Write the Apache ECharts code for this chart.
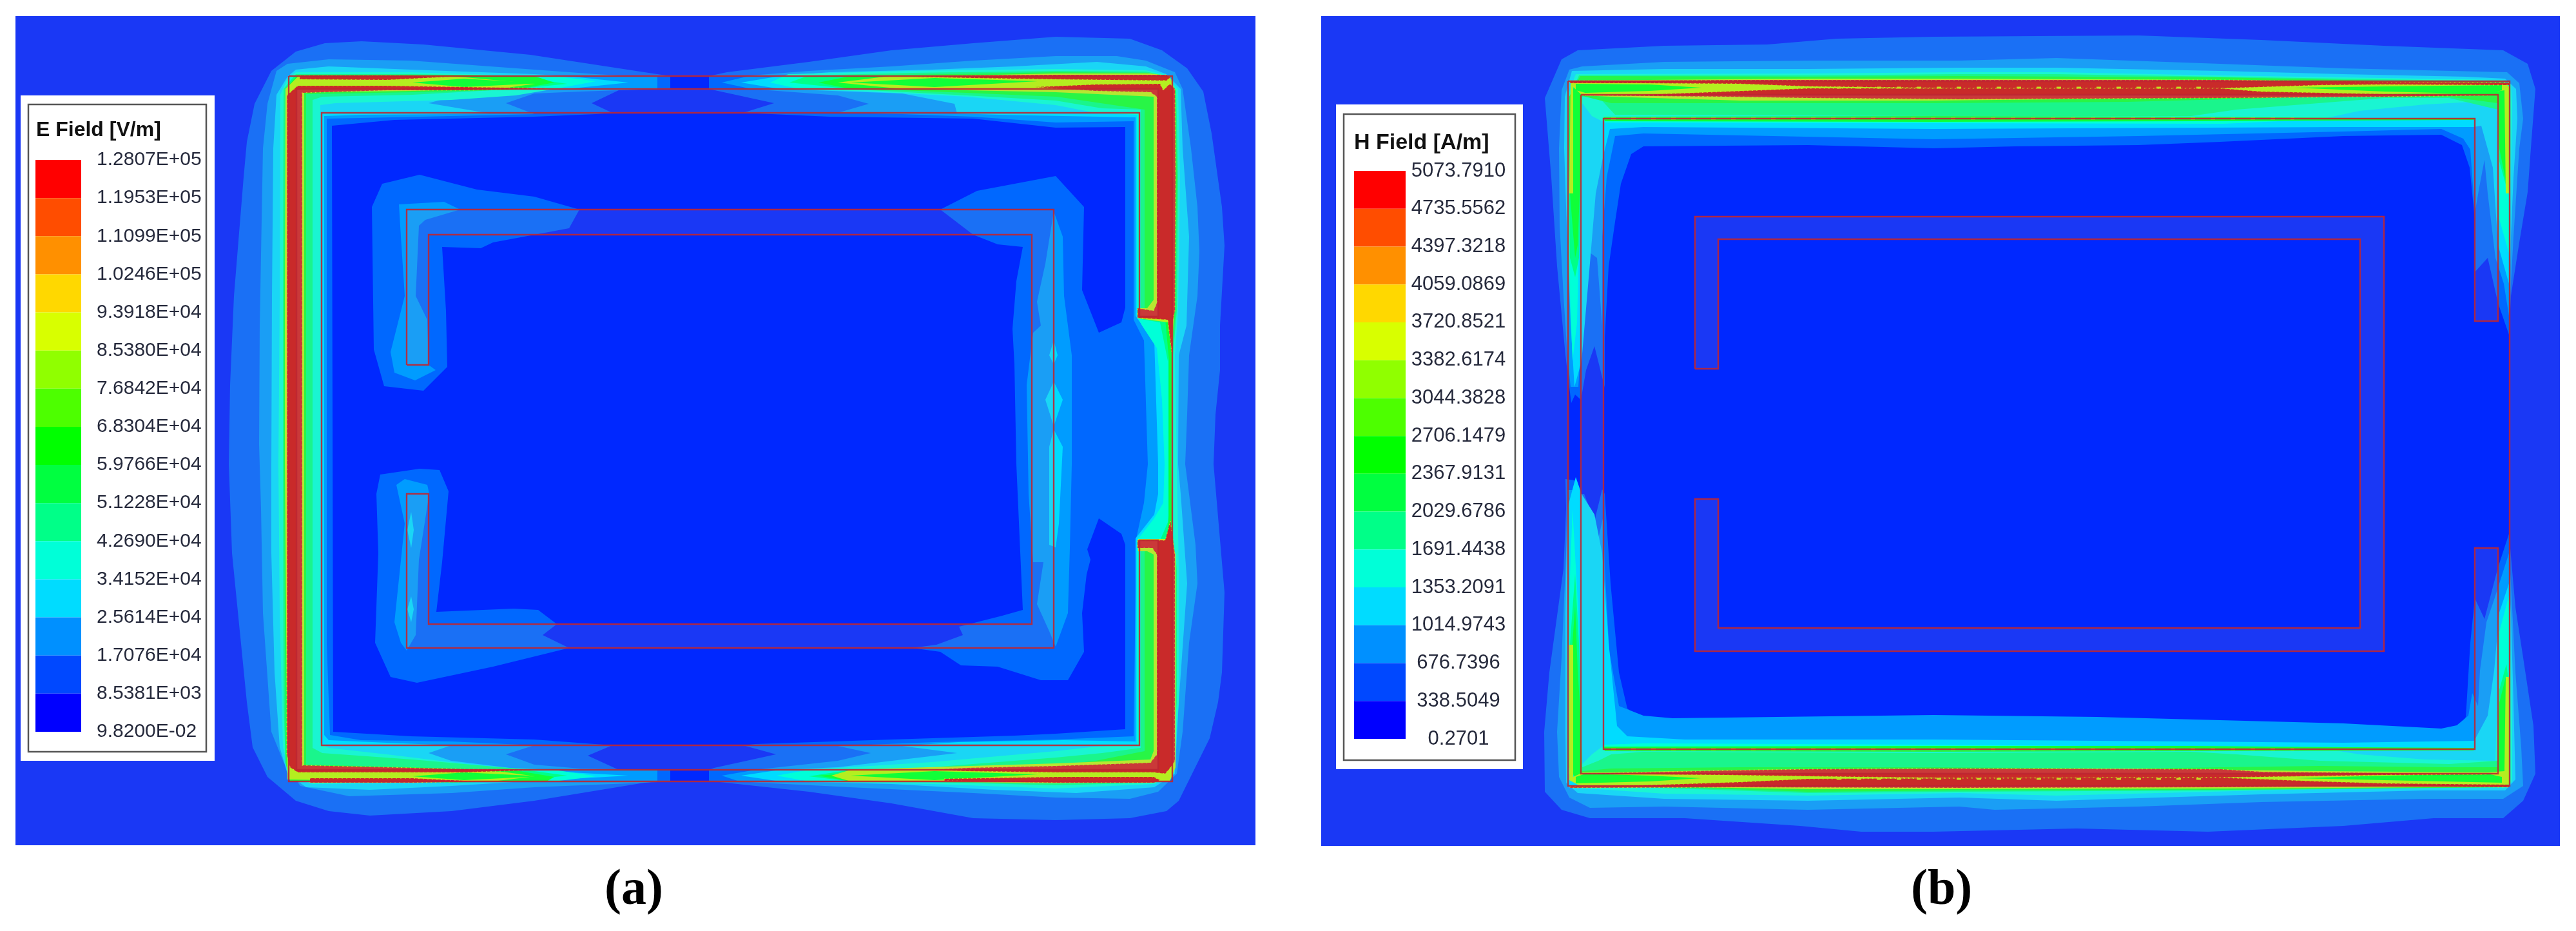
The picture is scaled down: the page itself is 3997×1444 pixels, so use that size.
<!DOCTYPE html>
<html><head><meta charset="utf-8">
<style>html,body{margin:0;padding:0;background:#fff}#c{width:3997px;height:1444px}</style>
<script src="https://cdn.jsdelivr.net/npm/echarts@6/dist/echarts.min.js"></script>
</head><body><div id="c"></div>
<script>
// ---------- legends ----------
const eTicks=['1.2807E+05','1.1953E+05','1.1099E+05','1.0246E+05','9.3918E+04','8.5380E+04','7.6842E+04','6.8304E+04','5.9766E+04','5.1228E+04','4.2690E+04','3.4152E+04','2.5614E+04','1.7076E+04','8.5381E+03','9.8200E-02'];
const hTicks=['5073.7910','4735.5562','4397.3218','4059.0869','3720.8521','3382.6174','3044.3828','2706.1479','2367.9131','2029.6786','1691.4438','1353.2091','1014.9743','676.7396','338.5049','0.2701'];
const swatchColors=['#ff0000','#ff4d00','#ff9000','#ffd800','#d8ff00','#90ff00','#4dff00','#00ff00','#00ff40','#00ff88','#00ffd8','#00dcff','#0090ff','#0048ff','#0000ff'];
// contour level fills, index = level
const levelColors=[null,'#0068ff','#009cff','#00dcff','#00ffd8','#00ff88','#10ff38','#b4ee20','#c92a2a'];
// ---------- panel (a): E field contours, positions along the panel's axes ----------
const aL1W=[1040,118,1000,112,823,85,657,69,561,64,504,67,459,80,421,110,395,161,383,220,378,275,363,459,357,597,355,720,360,858,383,1089,392,1159,415,1205,459,1242,510,1258,574,1265,701,1258,829,1242,1000,1214,1040,1212,1040,1194,960,1194,912,1172,950,1156,829,1147,638,1142,517,1135,515,195,612,186,829,181,925,177,950,175,918,160,960,140,1040,138];
const aL1E=[1100,118,1128,112,1255,96,1383,78,1510,67,1638,57,1753,60,1803,78,1842,106,1867,142,1880,207,1896,321,1900,381,1893,505,1893,574,1886,643,1883,720,1900,919,1896,1043,1890,1089,1877,1145,1829,1242,1810,1258,1753,1269,1638,1272,1510,1269,1383,1246,1255,1228,1108,1212,1100,1212,1100,1194,1108,1191,1204,1170,1153,1156,1172,1154,1383,1147,1574,1141,1638,1138,1746,1131,1746,845,1740,828,1705,804,1687,852,1692,868,1686,891,1679,951,1682,1011,1657,1055,1615,1055,1548,1034,1491,1032,1459,1011,1415,1005,1453,1000,1494,985,1488,972,1555,955,1587,946,1577,720,1574,565,1571,510,1577,436,1587,383,1548,379,1510,364,1459,325,1516,296,1638,273,1682,321,1679,450,1705,516,1740,500,1746,477,1746,197,1638,198,1510,184,1287,181,1153,175,1201,160,1100,138];
const aRingL1NW=[593,285,651,271,740,294,829,305,899,325,883,354,765,376,746,385,686,383,692,482,694,569,657,606,596,599,580,542,577,321];
const aRingL1SW=[590,736,651,727,682,729,696,762,686,872,677,949,797,944,835,946,864,968,842,985,883,1005,765,1034,647,1059,606,1050,582,997,587,858,584,766];
const aL2W=[1020,118,976,118,925,115,829,108,638,94,510,92,446,99,429,110,415,161,408,230,403,505,402,689,405,789,408,951,421,1135,440,1182,466,1219,542,1235,701,1230,829,1221,1000,1214,1020,1212,1020,1194,900,1192,829,1186,785,1170,829,1156,700,1150,560,1148,512,1140,507,1000,507,184,560,183,700,180,829,177,785,160,829,145,900,142,1020,138];
const aL2E=[1120,128,1166,117,1255,110,1383,103,1510,94,1638,87,1733,87,1778,94,1823,112,1835,138,1848,230,1858,321,1861,390,1858,459,1845,551,1842,643,1839,720,1842,743,1855,845,1858,905,1845,997,1835,1135,1826,1200,1797,1228,1753,1239,1638,1237,1510,1230,1319,1221,1179,1214,1147,1212,1120,1203,1172,1194,1300,1180,1351,1168,1300,1157,1450,1151,1638,1147,1759,1142,1763,835,1775,780,1781,720,1775,528,1759,496,1759,188,1638,190,1510,181,1400,177,1300,175,1348,161,1300,148,1166,138];
const aRingL2NW=[619,317,689,313,714,325,660,341,650,350,645,459,663,496,665,566,676,574,644,590,612,578,606,546,628,459,622,367];
const aRingL2SW=[615,752,628,743,663,752,666,766,650,868,645,985,631,1009,622,997,612,965,628,812];
const aRingL2E=[1635,328,1649,367,1651,459,1663,551,1663,720,1660,850,1657,951,1638,1003,1628,979,1609,937,1619,872,1603,872,1596,766,1593,597,1603,516,1615,505,1609,468,1622,409];
const aL3W=[975,128,880,118,829,115,638,108,510,103,459,108,446,119,429,147,424,230,422,459,421,720,421,858,426,1043,434,1159,446,1200,475,1221,574,1225,701,1219,797,1213,816,1212,975,1203,816,1194,700,1180,665,1168,700,1156,600,1152,510,1148,503,1140,503,180,560,178,700,177,760,176,665,160,720,145,880,138];
const aL3E=[1150,128,1210,118,1287,112,1446,108,1574,103,1702,96,1778,103,1810,115,1832,138,1835,230,1845,367,1841,505,1829,551,1828,720,1832,766,1842,905,1829,1089,1823,1200,1791,1221,1670,1230,1542,1225,1383,1216,1210,1212,1150,1203,1210,1194,1300,1190,1485,1168,1400,1157,1487,1151,1650,1148,1762,1150,1762,835,1791,798,1797,766,1797,720,1791,528,1769,500,1762,490,1762,182,1650,180,1550,178,1485,176,1481,161,1400,145,1210,138];
const aRingL3A=[1635,592,1649,620,1635,661,1622,620];
const aRingL3B=[1635,528,1641,551,1635,565,1628,551];
const aRingL3C=[1635,666,1649,693,1643,812,1638,849,1628,845,1628,775,1628,693];
const aRingL3D=[638,794,642,822,638,850,632,822];
const aRingL3E=[638,925,642,945,638,965,632,945];
const aL4W=[925,126,860,118,765,116,638,112,459,112,446,122,435,147,434,459,432,720,434,951,439,1159,450,1205,485,1216,638,1214,733,1212,860,1212,925,1204,860,1194,765,1190,600,1170,510,1160,497,1153,497,163,520,160,700,155,800,148,860,138];
const aL4E=[1195,128,1223,115,1415,110,1638,107,1778,109,1805,115,1828,138,1831,275,1828,482,1823,551,1826,720,1829,882,1829,1089,1821,1200,1791,1216,1638,1223,1446,1216,1255,1212,1205,1203,1255,1194,1446,1182,1638,1165,1700,1158,1764,1155,1764,838,1790,805,1805,780,1807,720,1803,620,1795,540,1772,505,1764,490,1764,178,1700,175,1638,163,1500,150,1350,142,1240,138];
const aL5W=[880,130,797,118,765,117,638,115,459,115,440,138,439,459,439,720,440,1089,443,1182,450,1209,701,1214,797,1212,880,1203,800,1192,640,1178,500,1168,485,1160,485,155,500,150,640,147,800,138];
const aL5E=[1225,128,1255,117,1415,113,1638,110,1778,111,1810,118,1825,140,1828,275,1826,482,1820,551,1818,720,1820,830,1826,882,1826,1089,1818,1200,1791,1214,1638,1218,1446,1213,1320,1212,1255,1204,1320,1194,1446,1190,1638,1175,1710,1168,1770,1160,1770,845,1800,838,1812,810,1812,560,1800,500,1770,495,1770,170,1710,168,1638,156,1500,148,1350,140,1320,138];
const aL6W=[860,128,829,118,701,116,462,116,443,138,441,459,441,720,443,1182,450,1211,733,1213,848,1212,860,1205,800,1195,640,1190,475,1186,475,146,640,143,800,139];
const aL6E=[1270,128,1320,118,1415,116,1638,112,1780,113,1812,120,1824,140,1826,275,1824,482,1819,540,1817,720,1819,830,1824,882,1824,1089,1815,1200,1790,1211,1638,1214,1446,1212,1320,1212,1270,1203,1400,1194,1638,1187,1700,1180,1776,1165,1776,842,1810,840,1814,800,1814,560,1808,495,1776,490,1776,170,1640,150,1500,144,1400,140,1320,138];
const aL7W=[830,130,701,118,638,117,464,117,443,138,442,459,442,720,446,1209,701,1213,765,1212,830,1204,780,1197,640,1192,472,1188,472,143,640,141,780,137];
const aL7NE=[1300,128,1380,118,1500,117,1638,114,1785,114,1815,118,1823,140,1824,275,1822,482,1818,546,1812,500,1768,494,1766,478,1780,478,1790,465,1790,150,1638,143,1500,140,1400,138];
const aL7SE=[1816,808,1818,838,1824,860,1824,1190,1815,1212,1638,1215,1500,1213,1320,1212,1290,1203,1320,1194,1440,1190,1640,1184,1785,1178,1790,1165,1790,860,1780,855,1766,855,1766,836,1810,836];
// cooler core between the two hot strips, where they fade toward the gap
const aGreenNW=[640,128,720,122,840,129,720,135];
const aGreenSW=[640,1204,720,1198,840,1204,720,1210];
const aGreenNE=[1320,128,1450,121,1610,126,1450,135];
const aGreenSE=[1320,1203,1450,1196,1610,1201,1450,1210];
const aRedW=[445,148,462,133,600,133,720,135,850,137,720,140,600,140,469,144,469,1187,600,1190,720,1193,829,1194,720,1198,600,1198,462,1198,450,1190,445,1170];
const aRedNW=[465,117,600,117,698,119,600,124,465,123];
const aRedSW=[481,1207,640,1207,740,1212,640,1214,481,1214];
const aRedNE=[1606,135,1700,131,1800,130,1805,140,1815,130,1823,138,1824,275,1823,482,1819,500,1818,546,1812,496,1765,493,1765,478,1790,482,1795,470,1795,150,1785,143,1700,141];
const aRedNE2=[1415,119,1510,117,1638,116,1810,116,1816,120,1810,125,1638,123,1510,121];
const aRedSE=[1816,808,1823,860,1823,1180,1815,1192,1808,1200,1790,1198,1638,1198,1500,1196,1446,1194,1500,1191,1638,1188,1785,1183,1795,1170,1795,860,1788,850,1765,850,1765,838,1808,838];
const aRedSE2=[1465,1208,1638,1205,1790,1205,1800,1210,1790,1214,1638,1214,1465,1211];
// panel (a) translucent bodies
const aBodyOuter=[24,25,1948,25,1948,1311,24,1311,24,25,448,118,448,1212,1819,1212,1819,118,448,118];
const aBodySlot=[460,138,1797,138,1797,491,1768,491,1768,175,499,175,499,1156,1768,1156,1768,838,1797,838,1797,1194,460,1194];
const aBodyRing=[631,566,631,325,1635,325,1635,1005,631,1005,631,766,665,766,665,968,1601,968,1601,364,665,364,665,566];
const aEdges=[[448,118,1819,118,1819,1212,448,1212,448,118],[460,138,1797,138,1797,491,1768,491,1768,175,499,175,499,1156,1768,1156,1768,838,1797,838,1797,1194,460,1194,460,138],aBodyRing.concat([631,566])];
// ---------- panel (b): H field contours ----------
const bL1N=[2438,625,2429,551,2416,413,2407,275,2397,152,2423,92,2448,78,2582,71,2742,69,2850,60,3000,57,3318,55,3509,62,3699,71,3884,78,3922,99,3934,138,3928,216,3922,298,3909,376,3896,459,3893,519,3876,470,3860,400,3840,422,3840,340,3832,260,3820,225,3788,209,3636,211,3445,220,3318,225,3127,227,3000,230,2805,225,2550,227,2531,239,2515,285,2506,344,2496,413,2490,523,2490,601,2474,537,2461,574,2453,620,2444,612];
const bL1S=[2429,743,2430,789,2426,882,2404,1043,2396,1135,2397,1228,2423,1256,2467,1269,2614,1269,2793,1281,2888,1290,3000,1290,3222,1285,3426,1290,3636,1281,3776,1269,3884,1269,3915,1242,3934,1200,3931,1126,3915,1020,3903,942,3893,828,3876,880,3855,960,3840,928,3833,997,3826,1112,3814,1131,3788,1138,3636,1129,3445,1126,3254,1119,3095,1115,2741,1119,2595,1122,2550,1117,2525,1099,2512,1043,2499,905,2490,766,2486,759,2474,808,2458,766,2451,766,2443,745];
const bL2N=[2437,600,2432,551,2426,459,2420,350,2419,230,2423,140,2435,108,2455,103,2582,96,2805,94,3040,94,3191,90,3445,99,3636,106,3890,112,3909,129,3915,184,3909,230,3900,367,3895,459,3893,490,3885,440,3872,400,3860,300,3855,248,3847,290,3840,330,3833,232,3822,215,3788,200,3636,204,3318,211,3000,216,2550,207,2506,211,2493,275,2486,367,2486,505,2478,400,2467,392,2454,520,2449,600];
const bL2S=[2432,760,2430,858,2423,1020,2416,1135,2419,1205,2435,1237,2467,1253,2582,1251,2805,1256,3040,1251,3095,1256,3318,1251,3509,1244,3763,1239,3884,1239,3915,1219,3912,1159,3903,1043,3896,905,3893,858,3870,930,3858,965,3848,1040,3845,1095,3836,1075,3830,1110,3812,1125,3788,1130,3636,1122,3254,1112,3000,1109,2595,1114,2550,1110,2512,1095,2497,1010,2490,880,2488,800,2470,880,2452,830,2445,760];
const bL3N=[2443,600,2437,500,2431,350,2427,230,2428,150,2439,110,2582,107,2805,107,3040,105,3191,105,3445,110,3636,115,3826,119,3887,122,3904,138,3906,184,3900,275,3896,367,3895,413,3893,440,3876,380,3868,260,3850,195,3838,197,3636,197,3000,200,2550,197,2498,200,2488,240,2476,300,2466,420,2454,560];
const bL3S=[2445,740,2432,789,2429,951,2429,1135,2430,1214,2448,1230,2582,1239,2805,1242,3040,1237,3191,1242,3509,1232,3763,1226,3887,1226,3903,1209,3900,1089,3896,951,3893,905,3878,950,3870,1040,3860,1110,3839,1149,3636,1152,3000,1147,2614,1147,2525,1142,2509,1126,2496,997,2486,858,2474,798,2454,766];
const bL4N=[2440,560,2434,400,2431,230,2432,150,2445,115,2805,114,3040,112,3191,112,3445,117,3636,120,3884,124,3896,131,3898,161,3895,321,3895,400,3878,340,3876,240,3874,156,3763,162,3661,172,3600,185,3450,192,3000,191,2550,190,2490,190,2470,180,2455,160,2453,200,2452,300,2447,500];
const bL4S=[2440,790,2434,950,2432,1100,2434,1200,2450,1222,2582,1231,2805,1234,3040,1230,3191,1234,3509,1226,3763,1220,3887,1222,3898,1212,3898,1120,3895,1000,3894,920,3878,980,3875,1080,3872,1180,3763,1178,3661,1170,3600,1160,3000,1155,2550,1153,2490,1155,2470,1170,2455,1185,2453,1100,2449,950];
const bL5N=[2444,430,2436,400,2434,230,2435,150,2450,117,2805,117,3040,115,3191,115,3445,119,3636,122,3884,126,3892,135,3893,250,3889,290,3878,250,3876,170,3800,152,3700,152,3470,170,3400,180,3000,180,2550,178,2506,178,2480,150,2455,150,2453,250,2450,400];
const bL5S=[2444,890,2436,1000,2434,1190,2450,1218,2805,1230,3040,1228,3445,1226,3884,1221,3892,1215,3893,1060,3889,1030,3878,1070,3876,1180,3800,1185,3600,1180,3470,1170,3400,1166,3000,1168,2550,1166,2500,1170,2480,1180,2455,1190,2453,1110,2450,1000];
const bL6N=[2444,400,2436,300,2435,150,2452,118,2805,119,3040,118,3445,120,3636,124,3884,128,3892,136,3892,250,3888,280,3878,230,3876,160,3800,150,3600,150,3300,158,3000,160,2700,160,2500,160,2460,150,2455,148,2453,250,2448,380];
const bL6S=[2444,940,2436,1050,2435,1190,2450,1216,2805,1228,3040,1226,3445,1225,3636,1223,3884,1221,3892,1215,3892,1060,3888,1050,3878,1090,3876,1190,3800,1190,3600,1188,3300,1192,3000,1190,2700,1190,2500,1192,2455,1196,2453,1120,2448,1040];
const bL6StripN=[2488,181,3000,180,3400,181,3661,183,3840,183,3838,186,3400,188,3000,189,2490,188];
const bL6StripS=[2488,1158,3000,1157,3400,1157,3661,1159,3840,1160,3838,1164,3400,1165,3000,1166,2490,1165];
const bL7N=[2435,300,2437,125,2805,122,3040,122,3445,124,3636,126,3884,128,3893,134,3893,300,3888,300,3886,140,3860,144,3600,147,3300,153,3000,156,2700,156,2500,150,2455,148,2441,135,2441,300];
const bL7S=[2435,1000,2435,1210,2450,1218,2805,1224,3040,1224,3445,1223,3636,1222,3884,1220,3893,1216,3893,1050,3888,1050,3886,1196,3860,1198,3600,1196,3300,1192,3000,1192,2700,1194,2500,1198,2456,1198,2441,1205,2441,1000];
const bGreenNW=[2445,130,2560,131,2640,136,2560,141,2460,144,2445,140];
const bGreenNE=[3882,132,3700,134,3560,136,3700,142,3860,146,3882,140];
const bGreenSW=[2445,1215,2560,1212,2640,1207,2560,1203,2460,1200,2445,1205];
const bGreenSE=[3882,1214,3700,1210,3560,1207,3700,1203,3860,1200,3882,1205];
const bRedN1=[2436,125,2550,125,2700,124,3040,124,3445,124,3600,126,3700,127,3893,128,3893,132,3700,131,3600,132,3445,137,3040,137,2805,134,2700,130,2550,129,2436,129];
const bRedN2=[2550,147,2678,142,2805,137,3040,137,3445,137,3509,142,3699,146,3860,148,3699,150,3445,152,3040,154,2805,152,2678,150,2455,148];
const bRedS1=[2455,1200,2678,1195,2805,1193,3040,1192,3445,1193,3509,1197,3699,1199,3860,1201,3699,1202,3445,1206,3040,1207,2805,1204,2678,1202];
const bRedS2=[2436,1220,2550,1218,2700,1213,2805,1208,3040,1207,3445,1206,3600,1212,3700,1215,3893,1217,3893,1221,3700,1219,3445,1221,3040,1222,2700,1221,2436,1222];
const bBodyOuter=[2050,25,3972,25,3972,1312,2050,1312,2050,25,2433,126,2433,1219,3894,1219,3894,126,2433,126];
const bBodySlot=[2453,147,3876,147,3876,498,3840,498,3840,184,2488,184,2488,1162,3840,1162,3840,850,3876,850,3876,1200,2453,1200];
const bBodyRing=[2630,572,2630,336,3699,336,3699,1010,2630,1010,2630,774,2666,774,2666,974,3662,974,3662,371,2666,371,2666,572];
const bEdges=[[2433,126,3894,126,3894,1219,2433,1219,2433,126],bBodySlot.concat([2453,147]),bBodyRing.concat([2630,572])];
// yellow ridges inside the hottest strips and on the slot edge
const bRidges=[[2850,136,3420,136],[2850,1208,3420,1208],[2500,184,3560,184],[2500,1162,3560,1162]];
const bodyTint='rgba(217,173,172,0.12)';
const edgeColor='rgba(190,38,50,0.9)';
// draw order: rising level, then bodies
const aLayers=[[aL1W,1],[aL1E,1],[aRingL1NW,1],[aRingL1SW,1],[aL2W,2],[aL2E,2],[aRingL2NW,2],[aRingL2SW,2],[aRingL2E,2],[aL3W,3],[aL3E,3],[aRingL3A,3],[aRingL3B,3],[aRingL3C,3],[aRingL3D,3],[aRingL3E,3],[aL4W,4],[aL4E,4],[aL5W,5],[aL5E,5],[aL6W,6],[aL6E,6],[aL7W,7],[aL7NE,7],[aL7SE,7],[aGreenNW,6],[aGreenSW,6],[aGreenNE,6],[aGreenSE,6],[aRedW,8],[aRedNW,8],[aRedSW,8],[aRedNE,8],[aRedNE2,8],[aRedSE,8],[aRedSE2,8],[aBodyOuter,0],[aBodySlot,0],[aBodyRing,0]];
const bLayers=[[bL1N,1],[bL1S,1],[bL2N,2],[bL2S,2],[bL3N,3],[bL3S,3],[bL4N,4],[bL4S,4],[bL5N,5],[bL5S,5],[bL6N,6],[bL6S,6],[bL6StripN,6],[bL6StripS,6],[bL7N,7],[bL7S,7],[bGreenNW,6],[bGreenNE,6],[bGreenSW,6],[bGreenSE,6],[bRedN1,8],[bRedN2,8],[bRedS1,8],[bRedS2,8],[bBodyOuter,0],[bBodySlot,0],[bBodyRing,0]];

const toPts=(flat,api)=>{const r=[];for(let i=0;i<flat.length;i+=2)r.push(api.coord([flat[i],flat[i+1]]));return r;};
function fieldSeries(layers,g){return {type:'custom',coordinateSystem:'cartesian2d',xAxisIndex:g,yAxisIndex:g,z:2,clip:true,silent:true,animation:false,
  data:layers.map((_,i)=>[i,i]),
  renderItem(p,api){const l=layers[p.dataIndex];const lev=l[1];
    const style=lev===0?{fill:bodyTint}:{fill:levelColors[lev]};
    if(lev===8){style.stroke='#c6e020';style.lineWidth=1.2;style.lineDash=[2,5];}
    return {type:'polygon',shape:{points:toPts(l[0],api)},style};}};}
function edgeSeries(edges,g,color,width,dash,z){return {type:'custom',coordinateSystem:'cartesian2d',xAxisIndex:g,yAxisIndex:g,z:z,clip:true,silent:true,animation:false,
  data:edges.map((_,i)=>[i,i]),
  renderItem(p,api){return {type:'polyline',shape:{points:toPts(edges[p.dataIndex],api)},style:{fill:null,stroke:color,lineWidth:width,lineDash:dash}};}};}
function swatchSeries(g){return {type:'custom',coordinateSystem:'cartesian2d',xAxisIndex:g,yAxisIndex:g,z:20,silent:true,animation:false,
  data:swatchColors.map((_,i)=>[i,i]),
  renderItem(p,api){const i=p.dataIndex;return {type:'polygon',shape:{points:[api.coord([0,i]),api.coord([1,i]),api.coord([1,i+1]),api.coord([0,i+1])]},style:{fill:swatchColors[i]}};}};}
const hidden={show:false};
const lblFont='"Liberation Sans",Arial,sans-serif';
const chart=echarts.init(document.getElementById('c'),null,{renderer:'canvas'});
chart.setOption({
  backgroundColor:'#fff',animation:false,
  grid:[
    {left:24,top:25,width:1924,height:1286,show:true,backgroundColor:'#0028ff',borderWidth:0,containLabel:false},
    {left:2050,top:25,width:1922,height:1287,show:true,backgroundColor:'#0028ff',borderWidth:0},
    {left:55,top:248,width:71,height:887,z:20},
    {left:2101,top:265,width:80,height:881,z:20}
  ],
  xAxis:[
    {type:'value',gridIndex:0,min:24,max:1948,...hidden},
    {type:'value',gridIndex:1,min:2050,max:3972,...hidden},
    {type:'value',gridIndex:2,min:0,max:1,...hidden},
    {type:'value',gridIndex:3,min:0,max:1,...hidden}
  ],
  yAxis:[
    {type:'value',gridIndex:0,min:25,max:1311,inverse:true,...hidden},
    {type:'value',gridIndex:1,min:25,max:1312,inverse:true,...hidden},
    {type:'value',gridIndex:2,min:0,max:15,interval:1,inverse:true,position:'right',z:30,axisLine:hidden,axisTick:hidden,splitLine:hidden,
      axisLabel:{show:true,margin:24,align:'left',fontFamily:lblFont,fontSize:30,color:'#262a3c',showMinLabel:true,showMaxLabel:true,formatter:v=>eTicks[v]}},
    {type:'value',gridIndex:3,min:0,max:15,interval:1,inverse:true,position:'right',z:30,axisLine:hidden,axisTick:hidden,splitLine:hidden,
      axisLabel:{show:true,margin:82,align:'center',fontFamily:lblFont,fontSize:31,color:'#262a3c',showMinLabel:true,showMaxLabel:true,formatter:v=>hTicks[v]}}
  ],
  title:[
    {text:'E Field [V/m]',left:56,top:186,padding:0,z:30,textStyle:{fontFamily:lblFont,fontSize:32,fontWeight:'bold',color:'#111'}},
    {text:'H Field [A/m]',left:2101,top:205,padding:0,z:30,textStyle:{fontFamily:lblFont,fontSize:34,fontWeight:'bold',color:'#111'}},
    {text:'{n|(}{b|a}{n|)}',left:938,top:1343,padding:0,z:30,textStyle:{rich:{n:{fontFamily:'"Liberation Serif",serif',fontSize:78,color:'#000'},b:{fontFamily:'"Liberation Serif",serif',fontSize:78,fontWeight:'bold',color:'#000'}}}},
    {text:'{n|(}{b|b}{n|)}',left:2965,top:1343,padding:0,z:30,textStyle:{rich:{n:{fontFamily:'"Liberation Serif",serif',fontSize:78,color:'#000'},b:{fontFamily:'"Liberation Serif",serif',fontSize:78,fontWeight:'bold',color:'#000'}}}}
  ],
  graphic:[
    {type:'rect',z:10,shape:{x:32,y:148,width:301,height:1032},style:{fill:'#fff'}},
    {type:'rect',z:11,shape:{x:44,y:162,width:276,height:1004},style:{fill:'#fff',stroke:'#555',lineWidth:2.5}},
    {type:'rect',z:10,shape:{x:2073,y:162,width:290,height:1031},style:{fill:'#fff'}},
    {type:'rect',z:11,shape:{x:2085,y:177,width:266,height:1002},style:{fill:'#fff',stroke:'#555',lineWidth:2.5}}
  ],
  series:[fieldSeries(aLayers,0),edgeSeries(aEdges,0,edgeColor,2.4,null,3),fieldSeries(bLayers,1),edgeSeries(bRidges,1,'#c6e020',3,[7,24],3),edgeSeries(bEdges,1,edgeColor,2.4,null,4),swatchSeries(2),swatchSeries(3)]
});
</script></body></html>
